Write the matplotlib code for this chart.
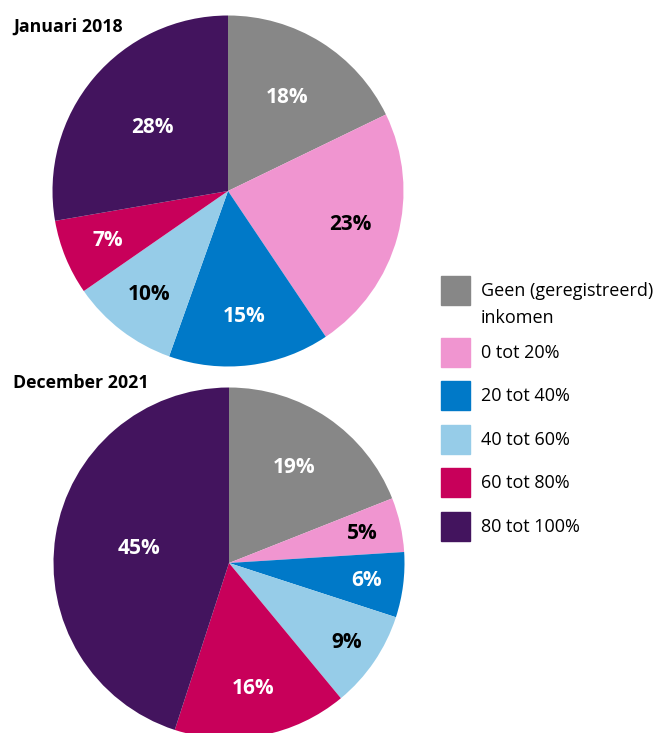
import matplotlib
matplotlib.use("Agg")
import matplotlib.pyplot as plt
from matplotlib.patches import Rectangle
import numpy as np

plt.rcParams['font.family'] = ['Open Sans', 'DejaVu Sans']

categories = ["Geen (geregistreerd)\ninkomen", "0 tot 20%", "20 tot 40%",
              "40 tot 60%", "60 tot 80%", "80 tot 100%"]
titles = ["Januari 2018", "December 2021"]
values_2018 = [18, 23, 15, 10, 7, 28]
values_2021 = [19, 5, 6, 9, 16, 45]

colors = ["#878787", "#f095d0", "#0079c8", "#96cce8", "#c8005a", "#43145e"]
text_colors = ["white", "black", "white", "black", "white", "white"]
text_colors_2021 = ["white", "black", "white", "black", "white", "white"]
dist_2018 = [0.63, 0.72, 0.72, 0.74, 0.74, 0.56]
dist_2021 = [0.66, 0.78, 0.79, 0.81, 0.73, 0.52]

W, H = 660, 733
fig = plt.figure(figsize=(W / 100, H / 100), dpi=100)

def draw_pie(cx, cy, r, values, tcols, dists):
    ax = fig.add_axes([(cx - r) / W, (H - cy - r) / H, 2 * r / W, 2 * r / H])
    wedges, _ = ax.pie(values, colors=colors, startangle=90, counterclock=False,
                       radius=1, wedgeprops=dict(linewidth=0))
    total = sum(values)
    ang = 90.0
    for v, tc, d in zip(values, tcols, dists):
        span = v / total * 360
        mid = np.deg2rad(ang - span / 2)
        ang -= span
        ax.text(d * np.cos(mid), d * np.sin(mid), f"{v}%", ha="center", va="center",
                color=tc, fontsize=15, fontweight="bold")
    ax.set_xlim(-1, 1)
    ax.set_ylim(-1, 1)
    ax.set_aspect("equal")
    ax.axis("off")
    return ax

draw_pie(228, 191, 175.5, values_2018, text_colors, dist_2018)
draw_pie(229, 563, 175.5, values_2021, text_colors_2021, dist_2021)

fig.text(13 / W, 1 - 27 / H, titles[0], fontsize=12.8, fontweight="bold",
         ha="left", va="center")
fig.text(13 / W, 1 - 383 / H, titles[1], fontsize=12.8, fontweight="bold",
         ha="left", va="center")

# legend
sq_tops = [276, 338, 381, 425, 468, 512]
for cat, col, top in zip(categories, colors, sq_tops):
    fig.patches.append(Rectangle((441 / W, 1 - (top + 29) / H), 29 / W, 29 / H,
                                 transform=fig.transFigure, color=col))
    if "\n" in cat:
        l1, l2 = cat.split("\n")
        fig.text(481 / W, 1 - (top + 15) / H, l1, fontsize=13, ha="left", va="center")
        fig.text(481 / W, 1 - (top + 42) / H, l2, fontsize=13, ha="left", va="center")
    else:
        fig.text(481 / W, 1 - (top + 15) / H, cat, fontsize=13, ha="left", va="center")

fig.savefig("out.png", dpi=100)
